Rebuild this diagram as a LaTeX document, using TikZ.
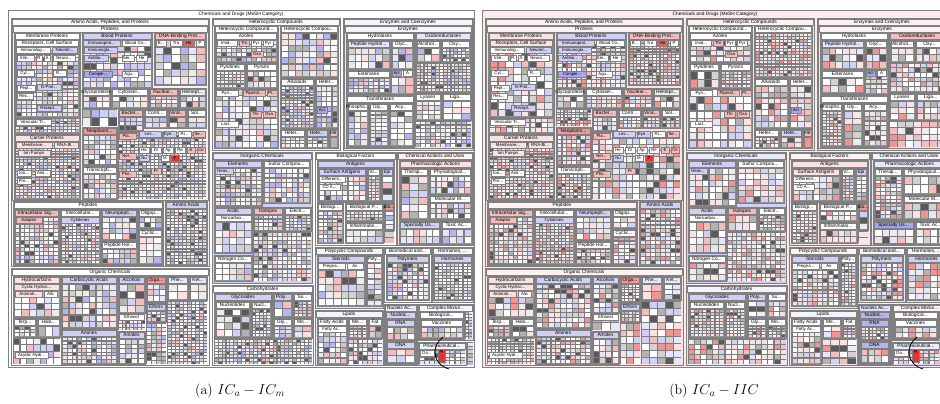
\documentclass[tikz,border=0pt]{standalone}
\usepackage{fontspec}
\newfontfamily\tmfont{Liberation Sans}
\usetikzlibrary{positioning}
\definecolor{rimGray}{RGB}{128,128,128}
\definecolor{cellGray}{RGB}{112,112,112}
\definecolor{lavBlue}{RGB}{208,208,245}
\definecolor{paleBlue}{RGB}{230,230,250}
\definecolor{midBlue}{RGB}{130,130,235}
\definecolor{palePink}{RGB}{250,226,226}
\definecolor{rosePink}{RGB}{244,188,188}
\definecolor{strongRed}{RGB}{232,50,50}

% box with light interior and a title bar
\newcommand\tmbig[6]{%
  \colorlet{tmtint}{#5}%
  \draw[tmrim, fill=tmtint] (#1,#2) rectangle (#3,#4);
  \draw[tmrim, fill=tmtint!45!white] ({#1+1},{#2+1}) rectangle ({#3-1},{#2+7});
  \node[tmtitle] at ({(#1+#3)/2},{#2+4}) {#6};}
% box with grey interior
\newcommand\tmsub[6]{%
  \colorlet{tmtint}{#5}%
  \draw[tmrim, fill=tmtint!25!cellGray] (#1,#2) rectangle (#3,#4);
  \draw[tmrim, fill=tmtint] ({#1+1},{#2+1}) rectangle ({#3-1},{#2+7});
  \node[tmtitle] at ({(#1+#3)/2},{#2+4}) {#6};}
% grey box filled with cells
\newcommand\tmleaf[6]{\tmsub{#1}{#2}{#3}{#4}{#5}{#6}\tmcells{#1+1}{#2+8}{#3-1}{#4-1}}
% small labelled cell
\newcommand\tmlab[5]{%
  \draw[tmrim, fill=#4] (#1,#2) rectangle (#3,{#2+6});
  \node[tmlabel] at ({(#1+#3)/2},{#2+3.2}) {#5};}
% grid of random cells on grey
\newcommand\tmcells[4]{%
  \pgfmathsetmacro\tmxa{#1}\pgfmathsetmacro\tmya{#2}%
  \pgfmathsetmacro\tmxb{#3}\pgfmathsetmacro\tmyb{#4}%
  \fill[cellGray!90!white] (\tmxa,\tmya) rectangle (\tmxb,\tmyb);
  \pgfmathsetmacro\tmcs{random(4,8)}%
  \pgfmathtruncatemacro\tmnc{max(1,round((\tmxb-\tmxa)/\tmcs))}%
  \pgfmathtruncatemacro\tmnr{max(1,round((\tmyb-\tmya)/max(3,\tmcs-1)))}%
  \pgfmathsetmacro\tmdx{(\tmxb-\tmxa)/\tmnc}%
  \pgfmathsetmacro\tmdy{(\tmyb-\tmya)/\tmnr}%
  \foreach \i in {1,...,\tmnc}{\foreach \j in {1,...,\tmnr}{%
    \pgfmathtruncatemacro\tmk{random(0,11)}%
    \fill[fill=pal\tmk] ({\tmxa+(\i-1)*\tmdx+0.8},{\tmya+(\j-1)*\tmdy+0.8})
      rectangle ({\tmxa+\i*\tmdx-0.3},{\tmya+\j*\tmdy-0.3});
  }}}

% palettes of the two panels
\newcommand\tmsetA{%
  \colorlet{pal0}{white}\colorlet{pal1}{white}\colorlet{pal2}{gray!15}%
  \colorlet{pal3}{gray!35}\colorlet{pal4}{cellGray!80!black}\colorlet{pal5}{paleBlue}%
  \colorlet{pal6}{lavBlue}\colorlet{pal7}{midBlue!60}\colorlet{pal8}{palePink}%
  \colorlet{pal9}{rosePink}\colorlet{pal10}{white}\colorlet{pal11}{gray!60}%
  \colorlet{kOuter}{white}\colorlet{kAmino}{gray!8}\colorlet{kProt}{gray!10}%
  \colorlet{kMemb}{white}\colorlet{kCarrier}{palePink}\colorlet{kPept}{white}%
  \colorlet{kOrg}{white}\colorlet{kHetero}{gray!10}\colorlet{kEnz}{paleBlue}%
  \colorlet{kOxid}{paleBlue}\colorlet{kInorg}{lavBlue}\colorlet{kBioF}{white}%
  \colorlet{kAntig}{lavBlue}\colorlet{kChem}{palePink}\colorlet{kPharmA}{palePink}%
  \colorlet{kPoly}{paleBlue}\colorlet{kBiomed}{white}\colorlet{kHorm}{paleBlue}%
  \colorlet{kCarb}{white}\colorlet{kLip}{paleBlue}\colorlet{kNucl}{lavBlue}%
  \colorlet{kCompl}{paleBlue}\colorlet{kPharm}{paleBlue}\colorlet{kSpec}{lavBlue}}
\newcommand\tmsetB{%
  \colorlet{pal0}{white}\colorlet{pal1}{palePink}\colorlet{pal2}{gray!15}%
  \colorlet{pal3}{gray!35}\colorlet{pal4}{cellGray!80!black}\colorlet{pal5}{paleBlue}%
  \colorlet{pal6}{lavBlue}\colorlet{pal7}{rosePink!70!strongRed}\colorlet{pal8}{palePink}%
  \colorlet{pal9}{rosePink}\colorlet{pal10}{white}\colorlet{pal11}{gray!60}%
  \colorlet{kOuter}{palePink!70!white}\colorlet{kAmino}{palePink}\colorlet{kProt}{palePink}%
  \colorlet{kMemb}{palePink}\colorlet{kCarrier}{palePink}\colorlet{kPept}{palePink}%
  \colorlet{kOrg}{palePink}\colorlet{kHetero}{palePink}\colorlet{kEnz}{palePink}%
  \colorlet{kOxid}{rosePink}\colorlet{kInorg}{lavBlue}\colorlet{kBioF}{palePink}%
  \colorlet{kAntig}{palePink}\colorlet{kChem}{paleBlue}\colorlet{kPharmA}{paleBlue}%
  \colorlet{kPoly}{palePink}\colorlet{kBiomed}{paleBlue}\colorlet{kHorm}{paleBlue}%
  \colorlet{kCarb}{paleBlue}\colorlet{kLip}{paleBlue}\colorlet{kNucl}{midBlue!60}%
  \colorlet{kCompl}{palePink}\colorlet{kPharm}{lavBlue}\colorlet{kSpec}{midBlue!70}}

% one treemap panel
\newcommand\tmpanel{%
  \draw[tmrim, fill=kOuter] (8,10) rectangle (474,367);
  \node[tmtitle] (frame) at (241,14) {Chemicals and Drugs (MeSH Category)};
  % Amino Acids, Peptides, and Proteins
  \tmbig{11}{18}{209}{266}{kAmino}{Amino Acids, Peptides, and Proteins}
  \tmbig{12}{25}{208}{200}{kProt}{Proteins}
  \tmsub{14}{32}{80}{133}{kMemb}{Membrane Proteins}
  \tmsub{15}{39}{79}{117}{kMemb}{Receptors, Cell Surface}
  \tmcells{16}{46}{78}{116}
  \tmlab{16}{47}{50}{white}{Immunolog...}
  \tmlab{52}{47}{77}{lavBlue}{Neurotr...}
  \tmlab{17}{55}{34}{white}{Inte...}
  \tmlab{36}{55}{42}{white}{R}
  \tmlab{44}{55}{50}{white}{A}
  \tmlab{53}{55}{75}{white}{Neuro...}
  \tmlab{17}{70}{34}{white}{Cyt...}
  \tmlab{53}{70}{66}{white}{R...}
  \tmlab{17}{85}{35}{white}{Pept...}
  \tmlab{37}{84}{61}{lavBlue}{G-Prot...}
  \tmlab{17}{93}{33}{white}{Rec...}
  \tmlab{37}{105}{61}{lavBlue}{Recept...}
  \tmcells{15}{118}{79}{132}
  \tmlab{16}{119}{51}{white}{Vesicular Tr...}
  \tmsub{14}{134}{80}{199}{kCarrier}{Carrier Proteins}
  \tmcells{15}{142}{79}{198}
  \tmlab{16}{142}{52}{palePink}{Membrane...}
  \tmlab{54}{142}{78}{palePink}{RNA-Bi...}
  \tmlab{18}{150}{50}{palePink}{Ion Pumps}
  \tmlab{17}{170}{31}{white}{Ion...}
  \tmlab{35}{170}{50}{white}{Ami...}
  \tmlab{17}{178}{31}{white}{Pro...}
  \tmsub{82}{32}{152}{88}{lavBlue}{Blood Proteins}
  \tmcells{83}{40}{151}{87}
  \tmlab{83}{40}{120}{lavBlue}{Immunoprot...}
  \tmlab{122}{40}{150}{white}{Blood Co...}
  \tmlab{84}{47}{117}{lavBlue}{Immunoglo...}
  \tmlab{84}{55}{108}{lavBlue}{Antibo...}
  \tmlab{122}{55}{134}{white}{Ser...}
  \tmlab{136}{55}{147}{white}{He}
  \tmlab{84}{71}{112}{midBlue!70}{Comple...}
  \tmlab{122}{71}{138}{white}{Agu...}
  \tmsub{154}{32}{206}{85}{rosePink}{DNA-Binding Prot...}
  \tmcells{155}{40}{205}{84}
  \tmlab{156}{40}{166}{white}{B...}
  \tmlab{170}{40}{182}{white}{Tra}
  \tmlab{183}{40}{194}{strongRed!80}{Ho}
  \tmlab{196}{40}{204}{white}{P}
  \tmleaf{82}{88}{110}{108}{white}{Glycoproteins}
  \tmleaf{111}{88}{148}{108}{white}{Cytoskel...}
  \tmleaf{149}{88}{178}{108}{rosePink}{Nuclear...}
  \tmleaf{179}{88}{206}{108}{gray!15}{Hemepr...}
  \tmcells{82}{109}{117}{126}
  \tmleaf{118}{109}{143}{131}{rosePink}{Bacter...}
  \tmleaf{144}{109}{167}{128}{white}{Contr...}
  \tmleaf{168}{109}{186}{128}{rosePink}{Viral...}
  \tmleaf{187}{109}{206}{128}{white}{Sol...}
  \tmleaf{82}{127}{117}{165}{rosePink!75!strongRed}{Neoplasm...}
  \tmleaf{82}{166}{117}{199}{white}{Transcripti...}
  \tmcells{118}{132}{206}{199}
  \tmlab{119}{133}{136}{rosePink}{Pla...}
  \tmlab{139}{131}{161}{lavBlue}{Lec...}
  \tmlab{163}{131}{176}{lavBlue}{Eye...}
  \tmlab{178}{131}{191}{white}{Ri...}
  \tmlab{193}{131}{205}{rosePink}{Se...}
  \tmlab{139}{147}{149}{white}{He}
  \tmlab{151}{147}{161}{white}{Di}
  \tmlab{163}{147}{173}{white}{Ap}
  \tmlab{175}{147}{185}{white}{Re}
  \tmlab{187}{147}{195}{rosePink}{E}
  \tmlab{197}{147}{205}{rosePink}{Ce}
  \tmlab{119}{153}{136}{rosePink}{Ner...}
  \tmlab{139}{155}{149}{lavBlue}{Nu}
  \tmlab{161}{155}{169}{white}{M}
  \tmlab{171}{155}{179}{strongRed}{F}
  \tmlab{119}{171}{136}{rosePink}{Pho...}
  \tmlab{151}{168}{161}{rosePink}{Pr}
  % Peptides
  \tmbig{13}{201}{163}{265}{kPept}{Peptides}
  \tmleaf{14}{209}{59}{264}{rosePink}{Intracellular Sig...}
  \tmlab{16}{217}{42}{rosePink}{Adaptor}
  \tmleaf{60}{209}{100}{264}{white}{Intercellular...}
  \tmlab{61}{217}{99}{lavBlue}{Cytokines}
  \tmleaf{101}{209}{137}{240}{lavBlue}{Neuropepti...}
  \tmleaf{138}{209}{162}{228}{white}{Oligop...}
  \tmleaf{138}{229}{162}{264}{white}{Cyclic...}
  \tmleaf{101}{241}{137}{264}{white}{Peptide Hor...}
  \tmleaf{165}{201}{207}{265}{lavBlue}{Amino Acids}
  % Organic Chemicals
  \tmbig{11}{268}{209}{365}{kOrg}{Organic Chemicals}
  \tmleaf{13}{276}{60}{317}{palePink}{Hydrocarbons}
  \tmlab{14}{284}{59}{palePink}{Cyclic Hydroc...}
  \tmlab{15}{291}{42}{palePink}{Aromati...}
  \tmlab{44}{291}{57}{white}{Alic}
  \tmleaf{13}{318}{36}{337}{white}{Terp...}
  \tmleaf{37}{318}{60}{337}{white}{Halo...}
  \tmcells{13}{338}{60}{364}
  \tmlab{15}{352}{48}{white}{Acyclic Hydr...}
  \tmleaf{61}{276}{117}{328}{lavBlue}{Carbocyclic Acids}
  \tmleaf{61}{329}{117}{364}{lavBlue}{Amines}
  \tmleaf{118}{276}{145}{313}{lavBlue}{Alcohols}
  \tmcells{118}{314}{145}{330}
  \tmlab{119}{314}{144}{white}{Ethanol}
  \tmleaf{118}{331}{145}{364}{lavBlue}{Amides}
  \tmleaf{146}{276}{166}{302}{rosePink!75!strongRed}{Orga...}
  \tmleaf{167}{276}{188}{300}{paleBlue}{Phe...}
  \tmleaf{189}{276}{207}{300}{paleBlue}{Ket...}
  \tmleaf{146}{303}{166}{322}{lavBlue}{Ethers}
  \tmcells{146}{323}{166}{364}
  \tmcells{167}{301}{207}{364}
  % Heterocyclic Compounds
  \tmbig{212}{18}{340}{150}{kHetero}{Heterocyclic Compounds}
  \tmsub{214}{25}{278}{148}{white}{Heterocyclic Compound...}
  \tmleaf{215}{32}{277}{62}{white}{Azoles}
  \tmlab{217}{40}{237}{white}{Imid...}
  \tmlab{239}{40}{249}{rosePink}{Thi}
  \tmlab{251}{40}{261}{white}{Pyr}
  \tmlab{263}{40}{273}{white}{Pyr}
  \tmlab{251}{51}{263}{rosePink}{Oxa}
  \tmleaf{215}{63}{245}{88}{white}{Pyridines}
  \tmleaf{246}{63}{277}{88}{white}{Pyrans}
  \tmcells{215}{89}{277}{147}
  \tmlab{216}{90}{238}{white}{Pyri...}
  \tmlab{243}{90}{265}{rosePink}{Piperid...}
  \tmlab{267}{90}{277}{rosePink}{Pi...}
  \tmlab{250}{111}{261}{rosePink}{Thi}
  \tmlab{263}{111}{275}{rosePink}{Oxa}
  \tmlab{216}{121}{238}{white}{Lact...}
  \tmleaf{280}{25}{338}{77}{white}{Heterocyclic Compou...}
  \tmleaf{280}{78}{314}{128}{white}{Alkaloids}
  \tmleaf{315}{78}{338}{128}{white}{Heter...}
  \tmlab{317}{107}{327}{midBlue!70}{Acr}
  \tmleaf{280}{129}{305}{148}{white}{Heter...}
  \tmleaf{306}{129}{328}{148}{lavBlue}{Hete...}
  \tmleaf{329}{129}{338}{148}{rosePink}{He}
  % Enzymes and Coenzymes
  \tmbig{343}{18}{473}{150}{kEnz}{Enzymes and Coenzymes}
  \tmbig{344}{25}{472}{148}{kEnz}{Enzymes}
  \tmsub{346}{32}{414}{94}{white}{Hydrolases}
  \tmleaf{347}{40}{390}{69}{paleBlue}{Peptide Hydrol...}
  \tmleaf{391}{40}{413}{69}{white}{Glyc...}
  \tmleaf{347}{70}{390}{93}{white}{Esterases}
  \tmcells{391}{70}{413}{93}
  \tmlab{392}{70}{401}{midBlue!70}{Acl}
  \tmlab{403}{70}{412}{white}{A}
  \tmsub{346}{95}{414}{147}{white}{Transferases}
  \tmleaf{347}{103}{368}{146}{white}{Phospho...}
  \tmleaf{369}{103}{388}{146}{white}{Gly...}
  \tmleaf{389}{103}{413}{146}{white}{Acy...}
  \tmsub{415}{32}{471}{92}{kOxid}{Oxidoreductases}
  \tmleaf{416}{40}{440}{62}{white}{Alcohol...}
  \tmleaf{441}{40}{470}{62}{white}{Oxy...}
  \tmcells{416}{63}{470}{91}
  \tmleaf{415}{93}{441}{120}{white}{Lyases}
  \tmleaf{442}{93}{471}{120}{white}{Liga...}
  \tmcells{415}{121}{471}{147}
  % Inorganic Chemicals
  \tmbig{212}{152}{312}{283}{kInorg}{Inorganic Chemicals}
  \tmleaf{214}{160}{262}{206}{lavBlue}{Elements}
  \tmlab{215}{168}{233}{lavBlue}{Heav...}
  \tmleaf{263}{160}{310}{203}{white}{Sulfur Compou...}
  \tmleaf{214}{207}{252}{253}{lavBlue}{Acids}
  \tmlab{215}{215}{251}{white}{Noncarbox...}
  \tmleaf{253}{207}{283}{231}{rosePink}{Isotopes}
  \tmleaf{284}{207}{311}{231}{white}{Electr...}
  \tmleaf{214}{255}{252}{281}{white}{Nitrogen Co...}
  \tmcells{253}{232}{311}{281}
  % Biological Factors
  \tmbig{315}{152}{396}{245}{kBioF}{Biological Factors}
  \tmsub{317}{160}{394}{202}{kAntig}{Antigens}
  \tmleaf{318}{168}{366}{201}{kAntig}{Surface Antigens}
  \tmlab{319}{176}{345}{white}{Differenti...}
  \tmlab{319}{184}{340}{white}{CD A...}
  \tmleaf{367}{168}{380}{201}{white}{Vi...}
  \tmleaf{381}{168}{393}{201}{lavBlue}{Epi}
  \tmleaf{317}{203}{343}{243}{white}{Biologi...}
  \tmleaf{345}{203}{383}{221}{white}{Biological P...}
  \tmleaf{384}{203}{394}{230}{rosePink!70!strongRed}{Bio...}
  \tmleaf{345}{222}{383}{243}{white}{Inflammatio...}
  \tmcells{384}{231}{394}{243}
  % Chemical Actions and Uses
  \tmbig{397}{152}{473}{245}{kChem}{Chemical Actions and Uses}
  \tmsub{399}{160}{472}{220}{kPharmA}{Pharmacologic Actions}
  \tmleaf{400}{168}{428}{219}{white}{Therap...}
  \tmleaf{429}{168}{471}{194}{white}{Physiological...}
  \tmleaf{429}{195}{471}{219}{white}{Molecular M...}
  \tmleaf{399}{221}{440}{244}{kSpec}{Specialty Us...}
  \tmleaf{441}{221}{472}{244}{white}{Toxic Ac...}
  % Polycyclic Compounds
  \tmbig{315}{247}{383}{308}{kPoly}{Polycyclic Compounds}
  \tmleaf{317}{255}{365}{306}{lavBlue}{Steroids}
  \tmlab{318}{263}{345}{white}{Pregna...}
  \tmlab{347}{263}{363}{white}{An}
  \tmleaf{366}{255}{382}{306}{white}{Poly...}
  % Biomedical and...
  \tmbig{384}{247}{431}{302}{kBiomed}{Biomedical and...}
  \tmleaf{386}{255}{429}{300}{lavBlue}{Polymers}
  % Hormones
  \tmbig{432}{247}{473}{302}{kHorm}{Hormones, ...}
  \tmleaf{433}{255}{472}{300}{lavBlue}{Hormones}
  % Carbohydrates
  \tmbig{212}{285}{313}{365}{kCarb}{Carbohydrates}
  \tmsub{214}{293}{272}{338}{lavBlue}{Glycosides}
  \tmleaf{215}{301}{250}{337}{white}{Nucleotides}
  \tmleaf{251}{301}{271}{337}{white}{Nucl...}
  \tmleaf{273}{293}{292}{317}{lavBlue}{Poly...}
  \tmleaf{293}{293}{312}{317}{white}{Su...}
  \tmleaf{273}{318}{292}{338}{white}{Gly...}
  \tmleaf{293}{318}{312}{338}{white}{Mo...}
  \tmcells{214}{339}{312}{364}
  % Lipids
  \tmbig{315}{310}{383}{365}{kLip}{Lipids}
  \tmleaf{317}{318}{347}{364}{white}{Fatty Acids}
  \tmlab{318}{326}{346}{white}{Fatty Ac...}
  \tmleaf{348}{318}{367}{338}{white}{Me...}
  \tmleaf{368}{318}{382}{338}{white}{Fat}
  \tmcells{348}{339}{382}{364}
  % Nucleic Acids
  \tmbig{384}{304}{417}{365}{kNucl}{Nucleic Ac...}
  \tmsub{385}{311}{416}{364}{kNucl}{Nucleic...}
  \tmleaf{386}{319}{415}{340}{kNucl}{RNA}
  \tmleaf{386}{341}{415}{363}{kNucl}{DNA}
  % Complex Mixtures
  \tmbig{418}{304}{473}{340}{kCompl}{Complex Mixtur...}
  \tmsub{419}{311}{464}{339}{white}{Biological...}
  \tmleaf{420}{319}{463}{338}{white}{Vaccines}
  \tmcells{465}{311}{472}{339}
  % Pharmaceutical
  \tmbig{418}{342}{466}{365}{kPharm}{Pharmaceutical...}
  \tmcells{419}{350}{465}{364}
  \tmlab{420}{350}{434}{white}{Do...}
  \draw[tmrim, fill=strongRed] (438,349) rectangle (445,362);
  \node[tmlabel] (pl) at (441.5,352) {Pl};
  \tmcells{467}{342}{473}{365}
  % hand-drawn mark
  \draw[line width=0.8pt] (443,337) .. controls (431,346) and (432,364) .. (449,369);
}

\begin{document}
\begin{tikzpicture}[x=1pt, y=-1pt,
    tmrim/.style={draw=rimGray, line width=0.4pt},
    tmtitle/.style={font=\tmfont\fontsize{4.8}{5}\selectfont, inner sep=0pt},
    tmlabel/.style={font=\tmfont\fontsize{4.3}{5}\selectfont, inner sep=0pt},
    tmcap/.style={font=\fontsize{14}{16}\selectfont, inner sep=0pt}
]
    \useasboundingbox[fill=white] (0,0) rectangle (940,404);
    % panel (a)
    \begin{scope}
        \tmsetA\pgfmathsetseed{11}
        \tmpanel
    \end{scope}
    % panel (b)
    \begin{scope}[xshift=474pt]
        \tmsetB\pgfmathsetseed{29}
        \tmpanel
    \end{scope}
    % captions
    \node[tmcap] (capA) at (240,391) {(a) $IC_a - IC_m$};
    \node[tmcap] (capB) at (714,391) {(b) $IC_a - IIC$};
\end{tikzpicture}
\end{document}
